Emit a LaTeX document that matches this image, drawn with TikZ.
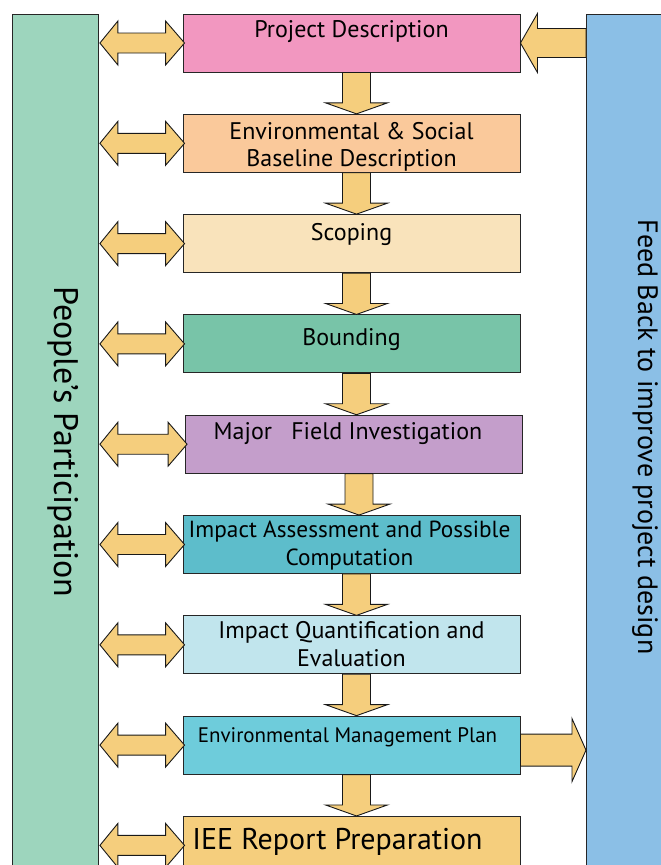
\documentclass[tikz,border=0pt]{standalone}
\usepackage{fontspec}
\setmainfont{PT Sans}
\usepackage{tikz}
\usetikzlibrary{positioning, calc}
\usepackage{xcolor}

\definecolor{peoplebar}{HTML}{9DD5BD}
\definecolor{feedbar}{HTML}{8BBFE6}
\definecolor{fatfill}{HTML}{F5CE7D}
\definecolor{descfill}{HTML}{F297C0}
\definecolor{envfill}{HTML}{FAC99B}
\definecolor{scopefill}{HTML}{F9E3BB}
\definecolor{boundfill}{HTML}{78C4A8}
\definecolor{fieldfill}{HTML}{C49ECB}
\definecolor{assessfill}{HTML}{5DBDCB}
\definecolor{quantfill}{HTML}{C1E5ED}
\definecolor{empfill}{HTML}{6ECCDB}
\definecolor{ieefill}{HTML}{F5CE7D}

\tikzset{
  box/.style={draw=black!85, line width=0.9pt, minimum width=337pt, minimum height=58pt, inner sep=0pt},
  bar/.style={draw=black!85, line width=0.9pt, anchor=north west, minimum height=880pt, inner sep=0pt},
  fat/.style={draw=black!90, line width=0.9pt, fill=fatfill, line join=miter},
  boxtext/.style={font=\fontsize{24}{27.5}\selectfont, align=center, inner sep=0pt, anchor=base},
  twolines/.style={boxtext, anchor=north},
}

% thick down arrow from the bottom of one box to the top of the next
\newcommand{\flowdown}[2]{%
  \draw[fat] let \p1=([xshift=5pt]#1.south), \p2=([xshift=5pt]#2.north) in
    (\x1-14pt,\y1) -- (\x1+14pt,\y1) -- (\x1+14pt,\y2+11pt) -- (\x1+31pt,\y2+11pt)
    -- (\x1,\y2) -- (\x1-31pt,\y2+11pt) -- (\x1-14pt,\y2+11pt) -- cycle;}

% double arrow between the participation bar and a box
\newcommand{\twoway}[1]{%
  \draw[fat] let \p1=(#1.west), \p2=(people.east) in
    (\x2+1pt,\y1) -- (\x2+19pt,\y1+22pt) -- (\x2+19pt,\y1+10pt) -- (\x1-17pt,\y1+10pt)
    -- (\x1-17pt,\y1+22pt) -- (\x1+2pt,\y1) -- (\x1-17pt,\y1-22pt) -- (\x1-17pt,\y1-10pt)
    -- (\x2+19pt,\y1-10pt) -- (\x2+19pt,\y1-22pt) -- cycle;}

\begin{document}
\begin{tikzpicture}[x=1pt, y=-1pt, node distance=41.4pt]
\useasboundingbox (0,0) rectangle (661,865);

% side bars
\node[bar, fill=peoplebar, minimum width=86pt] (people) at (12,14) {};
\node[bar, fill=feedbar, minimum width=100pt] (fback) at (586,14) {};
\node[rotate=-90, font=\fontsize{34}{36}\selectfont] at (63,442) {People’s Participation};
\node[rotate=-90, font=\fontsize{28}{30}\selectfont] at (645,437) {Feed Back to improve project design};

% the steps
\node[box, fill=descfill] (desc) at (351.5,43) {};
\node[box, fill=envfill, below=of desc] (env) {};
\node[box, fill=scopefill, below=of env] (scope) {};
\node[box, fill=boundfill, below=of scope] (bound) {};
\node[box, fill=fieldfill, below=of bound, xshift=2.5pt] (field) {};
\node[box, fill=assessfill, below=of field, xshift=-2.5pt] (assess) {};
\node[box, fill=quantfill, below=of assess] (quant) {};
\node[box, fill=empfill, below=of quant] (emp) {};
\node[box, fill=ieefill, below=of emp] (iee) {};

\node[boxtext] at ([yshift=-24pt]desc.north) {Project Description};
\node[twolines] at ([yshift=-8pt]env.north) {Environmental \& Social\\Baseline Description};
\node[boxtext] at ([yshift=-26.5pt]scope.north) {Scoping};
\node[boxtext] at ([yshift=-31.5pt]bound.north) {Bounding};
\node[boxtext] at ([xshift=-6pt, yshift=-24.5pt]field.north) {Major\ \ \ Field Investigation};
\node[twolines, font=\fontsize{23.3}{27.5}\selectfont] at ([xshift=-2pt, yshift=-6pt]assess.north) {Impact Assessment and Possible\\Computation};
\node[twolines] at ([yshift=-6pt]quant.north) {Impact Quantification and\\Evaluation};
\node[boxtext, font=\fontsize{21}{24}\selectfont] at ([xshift=-4pt, yshift=-26.5pt]emp.north) {Environmental Management Plan};
\node[boxtext, font=\fontsize{30}{32}\selectfont] at ([xshift=-14pt, yshift=-34pt]iee.north) {IEE Report Preparation};

% flow between the steps
\flowdown{desc}{env}
\flowdown{env}{scope}
\flowdown{scope}{bound}
\flowdown{bound}{field}
\flowdown{field}{assess}
\flowdown{assess}{quant}
\flowdown{quant}{emp}
\flowdown{emp}{iee}

% participation at every step
\twoway{desc}
\twoway{env}
\twoway{scope}
\twoway{bound}
\twoway{field}
\twoway{assess}
\twoway{quant}
\twoway{emp}
\twoway{iee}

% feedback loop
\draw[fat] let \p1=(desc.east), \p2=(fback.west) in
  (\x2,\y1+14.5pt) -- (\x1+17pt,\y1+14.5pt) -- (\x1+17pt,\y1+29.5pt) -- (\x1,\y1)
  -- (\x1+17pt,\y1-29.5pt) -- (\x1+17pt,\y1-14.5pt) -- (\x2,\y1-14.5pt) -- cycle;
\draw[fat] let \p1=([yshift=-5pt]emp.east), \p2=(fback.west) in
  (\x1,\y1+16pt) -- (\x2-14pt,\y1+16pt) -- (\x2-14pt,\y1+31.5pt) -- (\x2,\y1)
  -- (\x2-14pt,\y1-31.5pt) -- (\x2-14pt,\y1-16pt) -- (\x1,\y1-16pt) -- cycle;
\end{tikzpicture}
\end{document}
